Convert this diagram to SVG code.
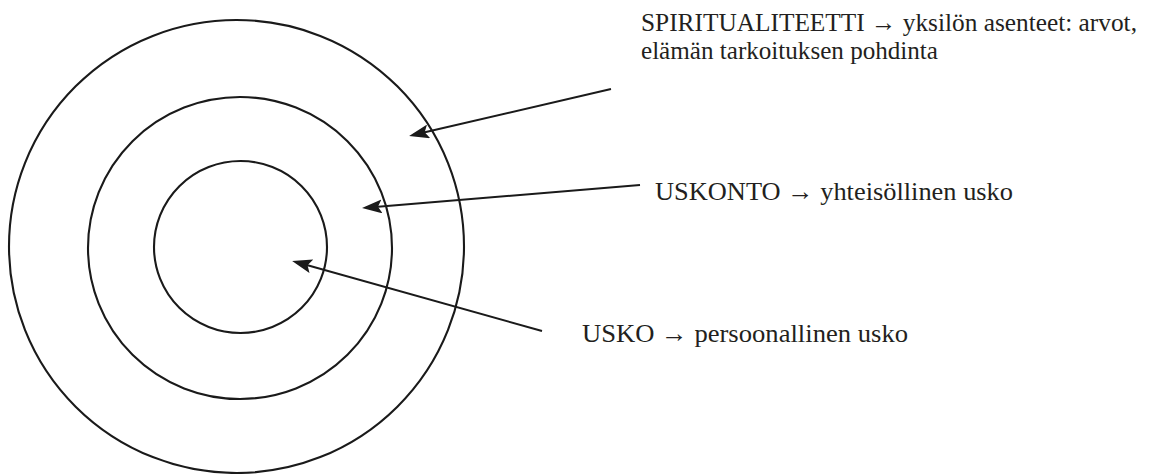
<svg xmlns="http://www.w3.org/2000/svg" width="1149" height="474" viewBox="0 0 1149 474">
<style>
.ring{fill:none;stroke:#1a1a1a;stroke-width:2.1}
.conn{fill:none;stroke:#1a1a1a;stroke-width:2}
.lbl{font-family:"Liberation Serif",serif;font-size:26px;fill:#231f20}
</style>
<defs>
<marker id="ah" viewBox="0 0 20 14" refX="16" refY="7" markerWidth="20" markerHeight="14" markerUnits="userSpaceOnUse" orient="auto">
<path d="M20,7 L0,0 L4,7 L0,14 Z" fill="#1a1a1a"/>
</marker>
</defs>
<rect width="1149" height="474" fill="#fff"/>
<g id="outer"><ellipse class="ring" cx="236.5" cy="246.5" rx="227.5" ry="226.5"/></g>
<g id="middle"><ellipse class="ring" cx="240" cy="248" rx="152" ry="151"/></g>
<g id="inner"><ellipse class="ring" cx="240.5" cy="247" rx="86.5" ry="86"/></g>
<g id="connectors">
<line class="conn" x1="611" y1="89" x2="413" y2="135" marker-end="url(#ah)"/>
<line class="conn" x1="640" y1="185" x2="366" y2="207.7" marker-end="url(#ah)"/>
<line class="conn" x1="542" y1="331" x2="296" y2="262" marker-end="url(#ah)"/>
</g>
<g id="label-spiritualiteetti">
<text class="lbl" x="641" y="31" textLength="496" lengthAdjust="spacingAndGlyphs">SPIRITUALITEETTI → yksilön asenteet: arvot,</text>
<text class="lbl" x="641" y="59" textLength="297" lengthAdjust="spacingAndGlyphs">elämän tarkoituksen pohdinta</text>
</g>
<g id="label-uskonto"><text class="lbl" x="655" y="200" textLength="358" lengthAdjust="spacingAndGlyphs">USKONTO → yhteisöllinen usko</text></g>
<g id="label-usko"><text class="lbl" x="582" y="342" textLength="326" lengthAdjust="spacingAndGlyphs">USKO → persoonallinen usko</text></g>
</svg>
